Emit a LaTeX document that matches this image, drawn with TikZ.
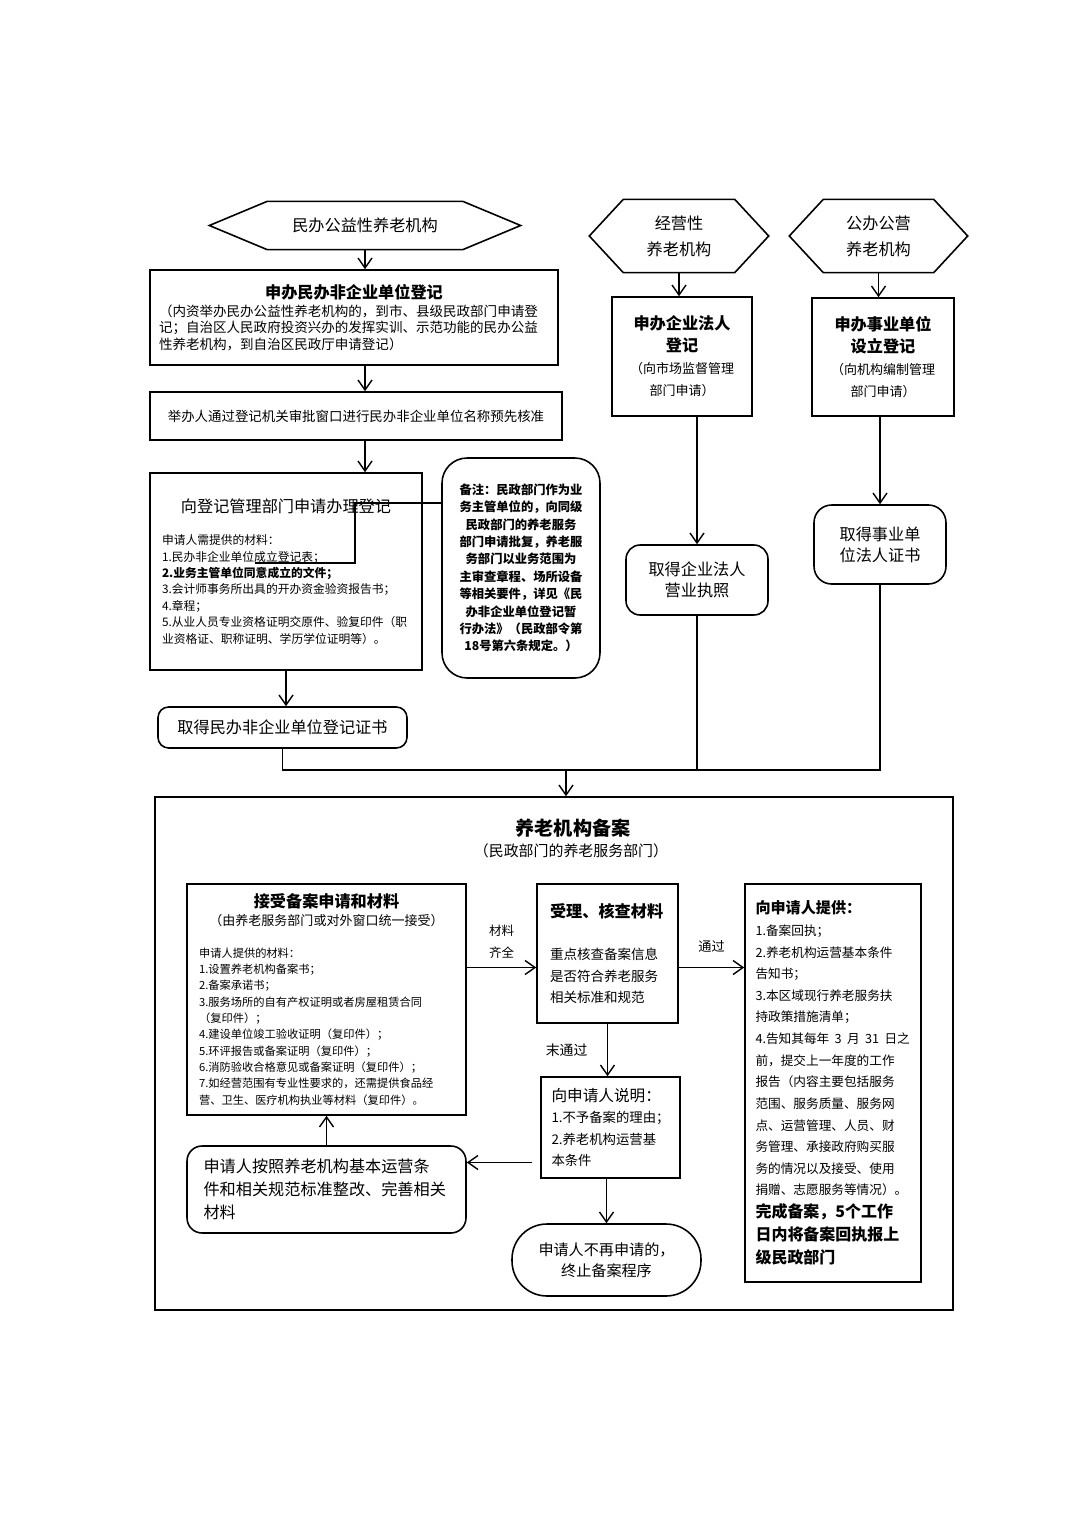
\documentclass[tikz,border=0pt]{standalone}
\usepackage{fontspec}
\setmainfont{Noto Sans CJK SC}
\usetikzlibrary{arrows.meta, calc}
\setlength{\parindent}{0pt}

\begin{document}
\begin{tikzpicture}[x=0.02cm, y=-0.02cm, >={Straight Barb[length=2mm, width=2.8mm]}, line width=0.8pt,
  every node/.style={inner sep=0pt, font=\fontsize{9.2pt}{13pt}\selectfont},
  box/.style={draw, line width=0.9pt, align=center}]
  \fill[white] (0,0) rectangle (1074,1520);
  \useasboundingbox (0,0) rectangle (1074,1520);

  % registration, left column
  \node[minimum width=6.2cm, minimum height=0.94cm] (h1) at (365,225.5) {民办公益性养老机构};
  \node[box, minimum width=8.16cm, minimum height=1.9cm, text width=7.8cm] (regA) at (354,317.5) {{\bfseries 申办民办非企业单位登记\par}\vspace{1pt}{\fontsize{7.7pt}{9.35pt}\selectfont\raggedright （内资举办民办公益性养老机构的，到市、县级民政部门申请登\\记；自治区人民政府投资兴办的发挥实训、示范功能的民办公益\\性养老机构，到自治区民政厅申请登记）\par}};
  \node[box, minimum width=8.24cm, minimum height=0.96cm, font=\fontsize{7.65pt}{9pt}\selectfont] (nameB) at (356,416) {举办人通过登记机关审批窗口进行民办非企业单位名称预先核准};
  \node[box, minimum width=5.44cm, minimum height=3.94cm, text width=4.96cm] (applyC) at (286,571.5) {向登记管理部门申请办理登记\par\vspace{9pt}{\fontsize{6.7pt}{9.35pt}\selectfont\raggedright 申请人需提供的材料：\\1.民办非企业单位成立登记表；\\{\bfseries 2.业务主管单位同意成立的文件；}\\3.会计师事务所出具的开办资金验资报告书；\\4.章程；\\5.从业人员专业资格证明交原件、验复印件（职\\业资格证、职称证明、学历学位证明等）。\par}};
  \node[box, rounded corners=0.5cm, minimum width=3.16cm, minimum height=4.4cm, text width=2.9cm, font=\fontsize{7pt}{9.9pt}\selectfont\bfseries] (noteD) at (521,568) {备注：民政部门作为业\\务主管单位的，向同级\\民政部门的养老服务\\部门申请批复，养老服\\务部门以业务范围为\\主审查章程、场所设备\\等相关要件，详见《民\\办非企业单位登记暂\\行办法》（民政部令第\\18号第六条规定。）};
  \node[box, rounded corners=6pt, minimum width=4.98cm, minimum height=0.82cm] (certE) at (282.5,727.5) {取得民办非企业单位登记证书};

  % registration, right columns
  \node[minimum width=3.56cm, minimum height=1.44cm, align=center, font=\fontsize{9.2pt}{14.7pt}\selectfont] (h2) at (679,236) {经营性\\养老机构};
  \node[minimum width=3.54cm, minimum height=1.44cm, align=center, font=\fontsize{9.2pt}{14.7pt}\selectfont] (h3) at (878.5,236) {公办公营\\养老机构};
  \node[box, minimum width=2.8cm, minimum height=2.38cm, text width=2.7cm] (entF) at (682,356.5) {{\bfseries\fontsize{9.2pt}{12.5pt}\selectfont 申办企业法人\\登记\par}{\fontsize{7.4pt}{12.5pt}\selectfont （向市场监督管理\\部门申请）\par}};
  \node[box, rounded corners=8pt, minimum width=2.84cm, minimum height=1.4cm, font=\fontsize{9.2pt}{12pt}\selectfont] (licG) at (697,580) {取得企业法人\\营业执照};
  \node[box, minimum width=2.84cm, minimum height=2.36cm, text width=2.7cm] (instH) at (883,357) {{\bfseries\fontsize{9.2pt}{12.5pt}\selectfont 申办事业单位\\设立登记\par}{\fontsize{7.4pt}{12.5pt}\selectfont （向机构编制管理\\部门申请）\par}};
  \node[box, rounded corners=10pt, minimum width=2.64cm, minimum height=1.58cm, font=\fontsize{9.2pt}{12pt}\selectfont] (certI) at (880,544.5) {取得事业单\\位法人证书};
  \foreach \h/\d in {h1/58, h2/34, h3/34}
    \draw[line width=0.9pt] (\h.west) -- ($(\h.north west)+(\d,0)$) -- ($(\h.north east)+(-\d,0)$) -- (\h.east) -- ($(\h.south east)+(-\d,0)$) -- ($(\h.south west)+(\d,0)$) -- cycle;

  % filing
  \node[box, minimum width=15.96cm, minimum height=10.26cm] (fileJ) at (554,1053.5) {};
  \node[font=\fontsize{10.9pt}{13pt}\selectfont\bfseries] (fileTitle) at (573,828) {养老机构备案};
  \node[font=\fontsize{8.5pt}{10pt}\selectfont] (fileSub) at (571,851) {（民政部门的养老服务部门）};
  \node[box, minimum width=5.58cm, minimum height=4.62cm, text width=5.1cm] (acceptK) at (326.5,999.5) {{\bfseries 接受备案申请和材料\par}{\fontsize{7.4pt}{10.2pt}\selectfont （由养老服务部门或对外窗口统一接受）\par}\vspace{8.5pt}{\fontsize{6.4pt}{9.3pt}\selectfont\raggedright 申请人提供的材料：\\1.设置养老机构备案书；\\2.备案承诺书；\\3.服务场所的自有产权证明或者房屋租赁合同\\（复印件）；\\4.建设单位竣工验收证明（复印件）；\\5.环评报告或备案证明（复印件）；\\6.消防验收合格意见或备案证明（复印件）；\\7.如经营范围有专业性要求的，还需提供食品经\\营、卫生、医疗机构执业等材料（复印件）。\par}};
  \node[box, minimum width=2.82cm, minimum height=2.78cm, text width=2.3cm, align=left] (checkL) at (607.5,953.5) {{\bfseries 受理、核查材料\par}\vspace{12pt}{\fontsize{7.7pt}{12.2pt}\selectfont 重点核查备案信息\\是否符合养老服务\\相关标准和规范\par}};
  \node[box, minimum width=3.52cm, minimum height=7.96cm, text width=3.1cm, align=left] (provideM) at (833,1083) {{\fontsize{8.6pt}{12.3pt}\selectfont\bfseries 向申请人提供：\par}{\fontsize{7.2pt}{12.3pt}\selectfont 1.备案回执；\\2.养老机构运营基本条件\\告知书；\\3.本区域现行养老服务扶\\持政策措施清单；\\4.告知其每年 3 月 31 日之\\前，提交上一年度的工作\\报告（内容主要包括服务\\范围、服务质量、服务网\\点、运营管理、人员、财\\务管理、承接政府购买服\\务的情况以及接受、使用\\捐赠、志愿服务等情况）。\par}{\fontsize{9.1pt}{13pt}\selectfont\bfseries 完成备案，5个工作\\日内将备案回执报上\\级民政部门\par}};
  \node[box, minimum width=2.78cm, minimum height=2.02cm, text width=2.36cm, align=left] (explainN) at (610.5,1127.5) {{\fontsize{8.9pt}{12.3pt}\selectfont 向申请人说明：\par}{\fontsize{7.6pt}{12.3pt}\selectfont 1.不予备案的理由；\\2.养老机构运营基\\本条件\par}};
  \node[box, rounded corners=0.3cm, minimum width=5.58cm, minimum height=1.74cm, text width=4.92cm, align=left] (fixO) at (326.5,1189.5) {申请人按照养老机构基本运营条\\件和相关规范标准整改、完善相关\\材料};
  \node[box, rounded corners=0.7cm, minimum width=3.78cm, minimum height=1.44cm, font=\fontsize{8.6pt}{12pt}\selectfont] (stopP) at (606.5,1260) {申请人不再申请的，\\终止备案程序};

  % connectors
  \draw[->] (h1.south) -- (h1.south |- regA.north);
  \draw[->] (regA.south -| h1.south) -- (nameB.north -| h1.south);
  \draw[->] (nameB.south -| h1.south) -- (applyC.north -| h1.south);
  \draw[->] (applyC.south) -- (applyC.south |- certE.north);
  \coordinate (noteBend) at (355,563);
  \coordinate (noteEnd) at (255,563);
  \draw ($(noteD.west)+(0,-65)$) -| (noteBend) -- (noteEnd);
  \draw[->] (h2.south) -- (h2.south |- entF.north);
  \draw[->] (entF.south -| licG.north) -- (licG.north);
  \draw[->] (h3.south) -- (h3.south |- instH.north);
  \draw[->] (instH.south -| certI.north) -- (certI.north);
  \coordinate (merge) at (566,770);
  \draw (certE.south) |- (merge) -| (certI.south);
  \draw (licG.south) -- (licG.south |- merge);
  \draw[->] (merge) -- (merge |- fileJ.north);
  \coordinate (kl) at ($(checkL.west)+(0,14)$);
  \draw[->] (acceptK.east |- kl) -- (kl) node[midway, above=5pt, align=center, font=\fontsize{7.1pt}{12pt}\selectfont] (lblFull) {材料\\齐全};
  \draw[->] (checkL.east |- kl) -- (provideM.west |- kl) node[midway, above=8pt, font=\fontsize{7.5pt}{9pt}\selectfont] (lblPass) {通过};
  \draw[->] (checkL.south) -- (checkL.south |- explainN.north) node[midway, left=11pt, font=\fontsize{7.9pt}{9pt}\selectfont] (lblFail) {末通过};
  \coordinate (nd) at ($(explainN.west)+(0,35)$);
  \draw[->, shorten <=0.16cm] (nd) -- (fixO.east |- nd);
  \draw[->] (fixO.north) -- (fixO.north |- acceptK.south);
  \draw[->] (explainN.south -| stopP.north) -- (stopP.north);
\end{tikzpicture}
\end{document}
